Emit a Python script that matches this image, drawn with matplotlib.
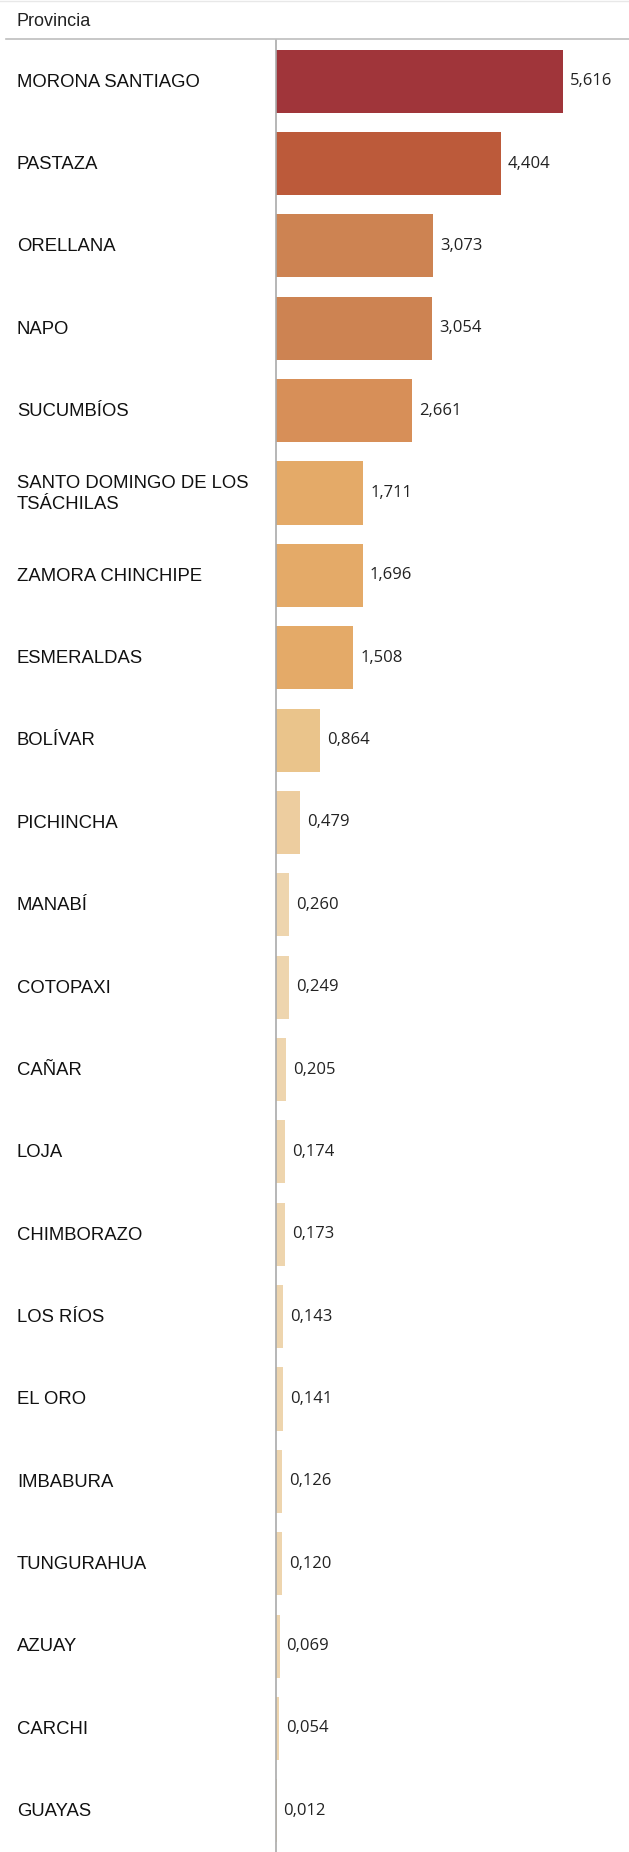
import matplotlib.pyplot as plt

# Data
provincias = ['MORONA SANTIAGO', 'PASTAZA', 'ORELLANA', 'NAPO', 'SUCUMBÍOS',
              'SANTO DOMINGO DE LOS\nTSÁCHILAS', 'ZAMORA CHINCHIPE', 'ESMERALDAS',
              'BOLÍVAR', 'PICHINCHA', 'MANABÍ', 'COTOPAXI', 'CAÑAR', 'LOJA',
              'CHIMBORAZO', 'LOS RÍOS', 'EL ORO', 'IMBABURA', 'TUNGURAHUA',
              'AZUAY', 'CARCHI', 'GUAYAS']
valores = [5.616, 4.404, 3.073, 3.054, 2.661, 1.711, 1.696, 1.508, 0.864, 0.479,
           0.260, 0.249, 0.205, 0.174, 0.173, 0.143, 0.141, 0.126, 0.120, 0.069,
           0.054, 0.012]


def color_for(v):
    # stepped colour scale like the original
    if v > 5:
        return '#A0353A'
    if v > 4:
        return '#BC5A3A'
    if v > 2.9:
        return '#CD8352'
    if v > 2:
        return '#D78F58'
    if v > 1:
        return '#E4AA68'
    if v > 0.6:
        return '#EAC48B'
    if v > 0.3:
        return '#EDCD9F'
    return '#EED5AE'


W, H = 629, 1852
fig = plt.figure(figsize=(W / 100, H / 100), dpi=100)

# header
fig.lines.append(plt.Line2D([0, 1], [1 - 1 / H, 1 - 1 / H], color='#e8e8e8', lw=1, transform=fig.transFigure))
fig.text(17 / W, 1 - 21 / H, 'Provincia', fontsize=13, family='Liberation Sans', va='center', ha='left',
         color='#222222')
fig.lines.append(plt.Line2D([6 / W, 1], [1 - 39 / H, 1 - 39 / H], color='#bdbdbd', lw=1.2, transform=fig.transFigure))

x0 = 276
ppu = 51.1  # pixels per unit
ax = fig.add_axes([x0 / W, 0, 1 - x0 / W, 1 - 40 / H])
n = len(provincias)
y = list(range(n))
ax.barh(y, valores, height=0.765, color=[color_for(v) for v in valores], left=0)
ax.set_ylim(n - 0.5, -0.5)
ax.set_xlim(0, (W - x0) / ppu)

for yi, v in zip(y, valores):
    ax.text(v + 7 / ppu, yi, f'{v:.3f}'.replace('.', ','), va='center', ha='left',
            fontsize=12, family='Open Sans', color='#222222')

for yi, name in zip(y, provincias):
    ax.text(-(x0 - 17) / ppu, yi + 0.01, name, va='center', ha='left', fontsize=13.3,
            family='Liberation Sans', color='#111111', linespacing=1.35, clip_on=False)

ax.set_xticks([])
ax.set_yticks([])
for s in ['top', 'right', 'bottom']:
    ax.spines[s].set_visible(False)
ax.spines['left'].set_color('#aaaaaa')
ax.spines['left'].set_linewidth(1.2)

fig.savefig('out.png', dpi=100)
